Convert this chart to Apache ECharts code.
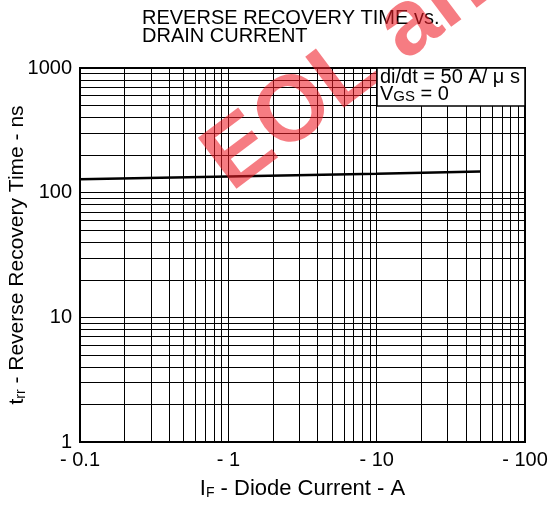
<!DOCTYPE html>
<html><head><meta charset="utf-8">
<script src="https://cdn.jsdelivr.net/npm/echarts@6/dist/echarts.min.js"></script>
<style>html,body{margin:0;padding:0;background:#fff}#c{width:554px;height:510px}</style>
</head><body><div id="c"></div>
<script>
// data
const currentA = [0.1, 1, 10, 50];
const trrNs = [128, 135, 142, 148];
const xTickLabels = ['- 0.1', '- 1', '- 10', '- 100'];
const yTickLabels = ['1', '10', '100', '1000'];
const xDecades = [0.1, 1, 10];
const yDecades = [1, 10, 100];
const minorSteps = [2, 3, 4, 5, 6, 7, 8, 9];

const FONT = 'Liberation Sans, Arial, sans-serif';
const minorX = [];
xDecades.forEach(d => minorSteps.forEach(k => minorX.push({ xAxis: +(d * k).toPrecision(6) })));
const minorY = [];
yDecades.forEach(d => minorSteps.forEach(k => minorY.push({ yAxis: +(d * k).toPrecision(6) })));

const ang = 37 * Math.PI / 180;

const chart = echarts.init(document.getElementById('c'), null, { renderer: 'canvas' });
chart.setOption({
  animation: false,
  backgroundColor: '#fff',
  textStyle: { fontFamily: FONT },
  grid: { left: 80, right: 29, top: 68, bottom: 68, show: true, borderColor: '#000', borderWidth: 2, containLabel: false, outerBoundsMode: 'none' },
  title: {
    text: 'REVERSE RECOVERY TIME vs.\nDRAIN CURRENT',
    left: 137, top: 4,
    textStyle: { fontFamily: FONT, fontWeight: 'normal', fontSize: 20, color: '#000', lineHeight: 18 }
  },
  xAxis: {
    type: 'log', logBase: 10, min: 0.1, max: 100,
    axisLine: { show: true, lineStyle: { color: '#000', width: 2 } },
    axisTick: { show: false },
    splitLine: { show: true, lineStyle: { color: '#000', width: 1 } },
    axisLabel: {
      color: '#000', fontSize: 20, fontFamily: FONT, margin: 8,
      formatter: (v, i) => xTickLabels[i]
    },
    name: '{a|I}{s|F}{a| - Diode Current - A}',
    nameLocation: 'middle', nameGap: 36, nameMoveOverlap: false,
    nameTextStyle: {
      rich: {
        a: { fontSize: 22, fontFamily: FONT, color: '#000', verticalAlign: 'bottom' },
        s: { fontSize: 14, fontFamily: FONT, color: '#000', verticalAlign: 'bottom' }
      }
    }
  },
  yAxis: {
    type: 'log', logBase: 10, min: 1, max: 1000,
    axisLine: { show: true, lineStyle: { color: '#000', width: 2 } },
    axisTick: { show: false },
    splitLine: { show: true, lineStyle: { color: '#000', width: 1 } },
    axisLabel: {
      color: '#000', fontSize: 20, fontFamily: FONT, margin: 8,
      formatter: (v, i) => yTickLabels[i]
    },
    name: '{a|t}{s|rr}{a| - Reverse Recovery Time - ns}',
    nameLocation: 'middle', nameGap: 52, nameMoveOverlap: false,
    nameTextStyle: {
      rich: {
        a: { fontSize: 21, fontFamily: FONT, color: '#000', verticalAlign: 'bottom' },
        s: { fontSize: 14, fontFamily: FONT, color: '#000', verticalAlign: 'bottom' }
      }
    }
  },
  series: [{
    type: 'line',
    data: currentA.map((x, i) => [x, trrNs[i]]),
    showSymbol: false, symbol: 'none',
    lineStyle: { color: '#000', width: 2.5 },
    z: 5,
    markLine: {
      silent: true, symbol: 'none', animation: false,
      label: { show: false },
      lineStyle: { color: '#000', width: 1, type: 'solid' },
      data: minorX.concat(minorY)
    }
  }],
  graphic: [
    {
      type: 'text', z: 50,
      x: 216, y: 172,
      rotation: ang,
      style: {
        text: 'EOL announced',
        font: 'bold 93px ' + FONT,
        fill: 'rgba(240,30,40,0.58)',
        textAlign: 'left', textVerticalAlign: 'middle'
      }
    },
    {
      type: 'rect', z: 100,
      shape: { x: 377, y: 68, width: 148, height: 38 },
      style: { fill: '#fff', stroke: '#000', lineWidth: 1.5 }
    },
    {
      type: 'text', z: 101, x: 380, y: 70,
      style: {
        text: '{a|di/dt = 50 A/ μ s}\n{a|V}{s|GS}{a| = 0}',
        rich: {
          a: { fontSize: 20, fontFamily: FONT, fill: '#000', lineHeight: 17, verticalAlign: 'bottom' },
          s: { fontSize: 15, fontFamily: FONT, fill: '#000', lineHeight: 17, verticalAlign: 'bottom' }
        }
      }
    }
  ]
});
</script></body></html>
